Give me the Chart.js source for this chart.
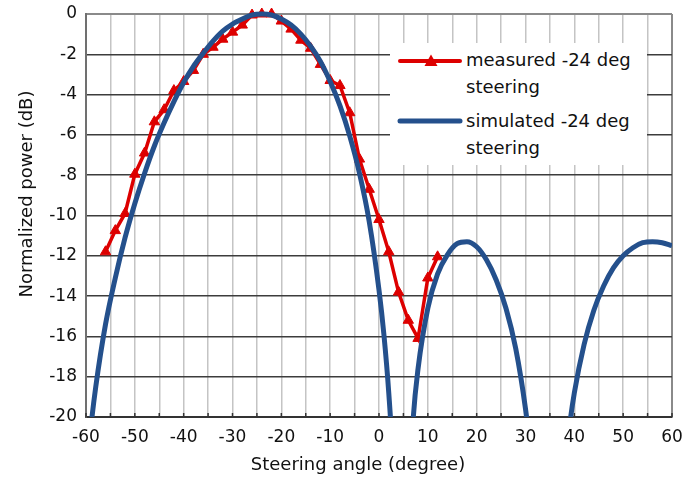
<!DOCTYPE html>
<html>
<head>
<meta charset="utf-8">
<title>Steering pattern</title>
<script src="https://cdn.jsdelivr.net/npm/chart.js@4.4.0/dist/chart.umd.min.js"></script>
<style>
  html, body { margin: 0; padding: 0; background: #fff; }
  #wrap { position: relative; width: 700px; height: 478px; font-family: 'DejaVu Sans', sans-serif; color: #111; overflow: hidden; }
  #myChart { position: absolute; left: 0; top: 0; }
  .axis-title { position: absolute; font-size: 18px; line-height: 20px; white-space: nowrap; text-align: center; }
  #xTitle { left: 200px; top: 454px; width: 316px; }
  #yTitle { left: -104px; top: 184px; width: 260px; transform: rotate(-90deg); }
  #legend { position: absolute; left: 390px; top: 43px; width: 257px; height: 122px; background: #fff; }
  #legend svg { position: absolute; left: 0; top: 0; }
  .leg-text { position: absolute; left: 76px; font-size: 18px; line-height: 26.5px; white-space: nowrap; }
</style>
</head>
<body>
<div id="wrap">
  <canvas id="myChart" width="700" height="478"></canvas>
  <div id="legend">
    <svg width="257" height="122">
      <line x1="10" y1="18" x2="70" y2="18" stroke="#dd0000" stroke-width="4" stroke-linecap="round"/>
      <polygon points="41,11.5 47.5,23 34.5,23" fill="#dd0000"/>
      <line x1="10" y1="78" x2="70" y2="78" stroke="#24508c" stroke-width="5" stroke-linecap="round"/>
    </svg>
    <div class="leg-text" style="top:4px">measured -24 deg<br>steering</div>
    <div class="leg-text" style="top:65px">simulated -24 deg<br>steering</div>
  </div>
  <div class="axis-title" id="xTitle">Steering angle (degree)</div>
  <div class="axis-title" id="yTitle">Normalized power (dB)</div>
</div>
<script>
// measured -24 deg steering
const measuredAngle = [-56, -54, -52, -50, -48, -46, -44, -42, -40, -38, -36, -34, -32, -30, -28, -26, -24, -22,
                       -20, -18, -16, -14, -12, -10, -8, -6, -4, -2, 0, 2, 4, 6, 8, 10, 12];
const measuredPower = [-11.8, -10.75, -9.9, -7.95, -6.9, -5.35, -4.75, -3.8, -3.35, -2.8, -2.0, -1.65, -1.25, -0.9, -0.55, -0.05, 0, 0,
                       -0.35, -0.75, -1.3, -1.7, -2.5, -3.3, -3.55, -4.9, -7.2, -8.7, -10.2, -11.8, -13.8, -15.2, -16.1, -13.1, -12.05];

// simulated -24 deg steering
const simAngle = [-60, -59, -58, -56, -54, -52, -50, -48, -46, -44, -42, -40, -38, -36, -34, -32, -30, -28, -26, -24,
                  -22, -20, -18, -16, -14, -12, -10, -8, -6, -4, -2, 0, 1, 2, 3, 4, 6, 7, 8, 10,
                  12, 14, 16, 18, 20, 22, 24, 26, 28, 30, 31, 32, 38, 39, 40, 42, 44, 46, 48, 50,
                  52, 54, 56, 58, 60];
const simPower = [-23.0, -20.5, -18.5, -15.4, -13.1, -11.1, -9.4, -7.9, -6.55, -5.4, -4.35, -3.4, -2.6, -1.95, -1.35, -0.85, -0.5, -0.25, -0.05, 0,
                  -0.05, -0.25, -0.55, -1.0, -1.6, -2.35, -3.35, -4.55, -6.05, -7.9, -10.3, -13.7, -15.9, -18.8, -22.9, -30, -25, -20.1, -17.6, -14.6,
                  -12.9, -11.95, -11.4, -11.3, -11.55, -12.2, -13.2, -14.6, -16.6, -19.6, -21.7, -24.5, -23.0, -20.5, -18.8, -16.4, -14.7, -13.5, -12.6, -12.0,
                  -11.6, -11.35, -11.3, -11.35, -11.5];

const xMin = -60, xMax = 60, xStep = 5;
const yMin = -20, yMax = 0, yStep = 2;

const toPoints = (xs, ys) => xs.map((x, i) => ({ x: x, y: ys[i] }));

// little inward tick marks along the bottom axis
const innerTicks = {
    id: 'innerTicks',
    beforeDatasetsDraw(chart) {
        const ctx = chart.ctx;
        const xs = chart.scales.x;
        const bottom = chart.chartArea.bottom;
        ctx.save();
        ctx.strokeStyle = '#333';
        ctx.lineWidth = 1.5;
        xs.ticks.forEach(t => {
            const px = xs.getPixelForValue(t.value);
            ctx.beginPath();
            ctx.moveTo(px, bottom);
            ctx.lineTo(px, bottom - 4);
            ctx.stroke();
        });
        ctx.restore();
    }
};

const tickFont = { family: "'DejaVu Sans', sans-serif", size: 17 };

const ctx = document.getElementById('myChart').getContext('2d');
const myChart = new Chart(ctx, {
    type: 'line',
    data: {
        datasets: [{
            label: 'measured -24 deg steering',
            data: toPoints(measuredAngle, measuredPower),
            borderColor: '#dd0000',
            backgroundColor: '#dd0000',
            borderWidth: 3.5,
            pointStyle: 'triangle',
            pointRadius: 6,
            pointBorderWidth: 1,
            tension: 0,
            order: 1,
            clip: { left: 10, top: 10, right: 10, bottom: 0 }
        }, {
            label: 'simulated -24 deg steering',
            data: toPoints(simAngle, simPower),
            borderColor: '#24508c',
            backgroundColor: '#24508c',
            borderWidth: 5,
            pointRadius: 0,
            cubicInterpolationMode: 'monotone',
            order: 0,
            clip: { left: 0, top: 5, right: 0, bottom: 0 }
        }]
    },
    options: {
        responsive: false,
        animation: false,
        devicePixelRatio: 1,
        layout: { padding: { left: 0, right: 28, top: 14, bottom: 0 } },
        plugins: {
            legend: { display: false },
            tooltip: { enabled: false }
        },
        scales: {
            x: {
                type: 'linear',
                min: xMin,
                max: xMax,
                afterFit: s => { s.height = 61; s.paddingLeft = 0; s.paddingRight = 0; },
                border: { color: '#333', width: 2 },
                grid: {
                    drawTicks: false,
                    color: c => (c.tick && c.tick.value === xMax ? '#8a8a8a' : '#c4c4c4'),
                    lineWidth: c => (c.tick && c.tick.value === xMax ? 2 : 1.5)
                },
                ticks: {
                    stepSize: xStep,
                    autoSkip: false,
                    maxRotation: 0,
                    padding: 10,
                    color: '#111',
                    font: tickFont,
                    callback: v => (v % 10 === 0 ? String(v) : '')
                }
            },
            y: {
                type: 'linear',
                min: yMin,
                max: yMax,
                afterFit: s => { s.width = 86; s.paddingTop = 0; s.paddingBottom = 0; },
                border: { color: '#707070', width: 2 },
                grid: {
                    drawTicks: false,
                    color: c => (c.tick && c.tick.value === yMax ? '#8a8a8a' : '#3c3c3c'),
                    lineWidth: c => (c.tick && c.tick.value === yMax ? 2 : 1.5)
                },
                ticks: {
                    stepSize: yStep,
                    padding: 9,
                    color: '#111',
                    font: tickFont
                }
            }
        }
    },
    plugins: [innerTicks]
});
</script>
</body>
</html>
